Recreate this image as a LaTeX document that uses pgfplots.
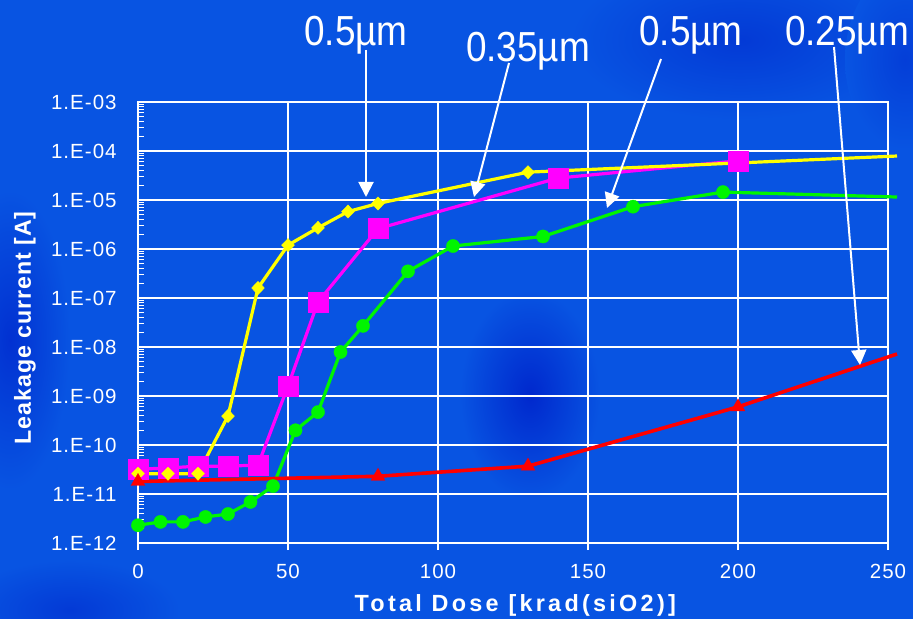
\documentclass[border=0pt]{standalone}
\usepackage{pgfplots}
\pgfplotsset{compat=1.18}
\usepackage{pgfplotstable}
\usepackage{fontspec}
\setmainfont{Liberation Sans}
\newfontfamily\tickfont[LetterSpace=5]{Liberation Sans}
\newfontfamily\xlabfont[LetterSpace=14]{Liberation Sans}
\newfontfamily\ylabfont[LetterSpace=4]{Liberation Sans}
\usetikzlibrary{arrows.meta}
\definecolor{bg}{RGB}{8,84,226}
\definecolor{bgdark}{RGB}{0,40,205}
\definecolor{yel}{RGB}{255,255,0}
\definecolor{mag}{RGB}{255,0,255}
\definecolor{grn}{RGB}{0,245,0}
\definecolor{rd}{RGB}{255,0,0}

\pgfplotstableread{
x y
0 2.6e-11
10 2.6e-11
20 2.6e-11
30 3.9e-10
40 1.6e-7
50 1.2e-6
60 2.7e-6
70 5.8e-6
80 8.5e-6
130 3.7e-5
253 7.9e-5
}\yellowdata

\pgfplotstableread{
x y
0 3.2e-11
10 3.4e-11
20 3.7e-11
30 3.7e-11
40 3.9e-11
50 1.6e-9
60 8.3e-8
80 2.6e-6
140 2.8e-5
200 6.3e-5
}\magentadata

\pgfplotstableread{
x y
0 2.3e-12
7.5 2.7e-12
15 2.7e-12
22.5 3.4e-12
30 3.9e-12
37.5 6.9e-12
45 1.45e-11
52.5 2.0e-10
60 4.7e-10
67.5 7.9e-9
75 2.7e-8
90 3.5e-7
105 1.15e-6
135 1.8e-6
165 7.3e-6
195 1.45e-5
253 1.15e-5
}\greendata

\pgfplotstableread{
x y
0 1.8e-11
80 2.3e-11
130 3.7e-11
200 6.0e-10
253 7.2e-9
}\reddata

\begin{document}
\begin{tikzpicture}
\useasboundingbox (0,0) rectangle (456.5pt,309.5pt);
\begin{scope}
  \clip (0,0) rectangle (456.5pt,309.5pt);
  \begin{scope}[x=0.5pt,y=-0.5pt,shift={(0,309.5pt)}]
    \fill[bg] (0,0) rectangle (913,619);
    \shade[inner color=bgdark, outer color=bg] (530,395) ellipse (70 and 105);
    \shade[inner color=bgdark!80!bg, outer color=bg] (10,340) ellipse (60 and 150);
    \shade[inner color=bgdark!60!bg, outer color=bg] (740,40) ellipse (170 and 80);
    \shade[inner color=bgdark!60!bg, outer color=bg] (70,610) ellipse (110 and 50);
    \shade[inner color=bgdark!50!bg, outer color=bg] (905,60) ellipse (60 and 90);
  \end{scope}
\end{scope}

\begin{axis}[
  at={(69pt,38pt)}, anchor=south west,
  scale only axis, width=375pt, height=220.5pt,
  xmin=0, xmax=250, ymode=log, ymin=1e-12, ymax=1e-3,
  xtick={0,50,100,150,200,250},
  xticklabels={0,50,100,150,200,250},
  ytick={1e-12,1e-11,1e-10,1e-9,1e-8,1e-7,1e-6,1e-5,1e-4,1e-3},
  yticklabels={1.E-12,1.E-11,1.E-10,1.E-09,1.E-08,1.E-07,1.E-06,1.E-05,1.E-04,1.E-03},
  xtick pos=bottom, ytick pos=left,
  grid=major, major grid style={draw=white, line width=0.6pt},
  axis line style={draw=white, line width=1pt},
  tick style={draw=white, line width=0.6pt},
  xtick align=center, ytick align=inside,
  major tick length=7pt, minor tick length=3pt,
  xticklabel style={font=\tickfont\fontsize{10.25}{12}\selectfont, text=white, inner sep=0pt, anchor=north, yshift=-7pt},
  yticklabel style={font=\tickfont\fontsize{10.25}{12}\selectfont, text=white, inner sep=0pt, anchor=east, xshift=-10.5pt},
  xlabel={Total Dose [krad(siO2)]},
  ylabel={Leakage current [A]},
  xlabel style={font=\xlabfont\bfseries\fontsize{11.7}{13}\selectfont, text=white, at={(axis description cs:0.503,-0.1406)}, anchor=center},
  ylabel style={font=\ylabfont\bfseries\fontsize{11.6}{13}\selectfont, text=white, at={(axis description cs:-0.1507,0.488)}, anchor=center},
  clip=false,
]
\addplot[grn, line width=1.6pt, no markers] table {\greendata};
\addplot[mag, line width=1.6pt, no markers] table {\magentadata};
\addplot[yel, line width=1.6pt, no markers] table {\yellowdata};
\addplot[rd, line width=1.8pt, no markers] table {\reddata};

\addplot[only marks, mark=*, mark size=3.3pt, mark options={fill=grn, draw=grn, line width=0.2pt}, restrict x to domain=0:250] table {\greendata};
\addplot[only marks, mark=square*, mark size=5pt, mark options={fill=mag, draw=mag, line width=0.2pt}, restrict x to domain=0:250] table {\magentadata};
\addplot[only marks, mark=diamond*, mark size=3.3pt, mark options={fill=yel, draw=yel, line width=0.2pt, xscale=1.3}, restrict x to domain=0:250] table {\yellowdata};
\addplot[only marks, mark=triangle*, mark size=4pt, mark options={fill=rd, draw=rd, line width=0.2pt}, restrict x to domain=0:250] table {\reddata};
\end{axis}

\begin{scope}[x=0.5pt,y=-0.5pt,shift={(0,309.5pt)}]
  \tikzset{ann/.style={draw=white, line width=1pt, -{Triangle[width=7.5pt,length=7.5pt]}}}
  \draw[ann] (366,50) -- (366,197);
  \draw[ann] (509,63) -- (474,197);
  \draw[ann] (661,59) -- (607,208);
  \draw[ann] (834,47) -- (860,365);
  \tikzset{lab/.style={text=white, anchor=base, inner sep=0pt, font=\fontsize{21}{24}\selectfont}}
  \node[lab] at (356,46) {\scalebox{0.88}[1]{0.5µm}};
  \node[lab] at (528,62) {\scalebox{0.88}[1]{0.35µm}};
  \node[lab] at (691,46) {\scalebox{0.88}[1]{0.5µm}};
  \node[lab] at (847,46) {\scalebox{0.88}[1]{0.25µm}};
\end{scope}
\end{tikzpicture}
\end{document}
